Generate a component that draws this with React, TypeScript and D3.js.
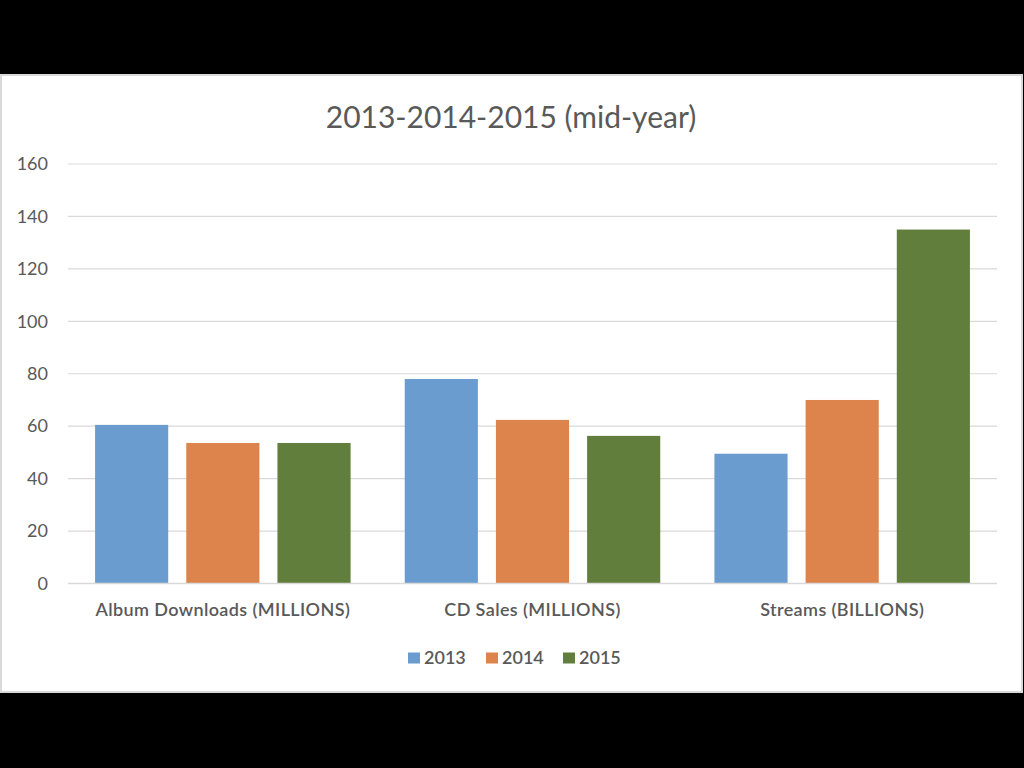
import { useEffect, useRef } from 'react';
import * as d3 from 'd3';

const categories = ['Album Downloads (MILLIONS)', 'CD Sales (MILLIONS)', 'Streams (BILLIONS)'];
const years = ['2013', '2014', '2015'];
const values2013 = [60.5, 78, 49.5];
const values2014 = [53.6, 62.4, 70];
const values2015 = [53.6, 56.3, 135];
const yTicks = [0, 20, 40, 60, 80, 100, 120, 140, 160];
const colors = ['#6a9ccf', '#dd834c', '#617e3c'];

const W = 1024;
const H = 768;
const FONT = 'Lato, "Open Sans", sans-serif';

export default function App() {
  const svgRef = useRef<SVGSVGElement>(null);

  useEffect(() => {
    if (!svgRef.current) return;
    const svg = d3.select(svgRef.current);
    svg.selectAll('*').remove();

    // black slide background + white chart panel
    svg.append('rect').attr('width', W).attr('height', H).attr('fill', '#000');
    svg.append('rect')
      .attr('x', 1).attr('y', 75).attr('width', 1021).attr('height', 617)
      .attr('fill', '#fff').attr('stroke', '#d9d9d9').attr('stroke-width', 2);

    const x0 = d3.scaleBand().domain(categories).range([68, 997]).paddingInner(0).paddingOuter(0);
    const x1 = d3.scaleBand().domain(years).range([0, x0.bandwidth()]).paddingInner(0.198).paddingOuter(0.297);
    const y = d3.scaleLinear().domain([0, 160]).range([583.5, 164]);

    // gridlines
    svg.append('g')
      .selectAll('line')
      .data(yTicks)
      .enter()
      .append('line')
      .attr('x1', 68).attr('x2', 997)
      .attr('y1', d => y(d)).attr('y2', d => y(d))
      .attr('stroke', '#d9d9d9').attr('stroke-width', 1.2);

    // y tick labels
    svg.append('g')
      .selectAll('text')
      .data(yTicks)
      .enter()
      .append('text')
      .attr('x', 48).attr('y', d => y(d))
      .attr('dy', '0.35em')
      .attr('text-anchor', 'end')
      .attr('font-family', FONT).attr('font-size', 18).attr('fill', '#595959')
      .text(d => d);

    const series = [values2013, values2014, values2015];
    const rows = categories.map((c, i) => ({ cat: c, vals: series.map((s, j) => ({ year: years[j], v: s[i], color: colors[j] })) }));

    const groups = svg.append('g')
      .selectAll('g')
      .data(rows)
      .enter()
      .append('g')
      .attr('transform', d => `translate(${x0(d.cat)},0)`);

    groups.selectAll('rect')
      .data(d => d.vals)
      .enter()
      .append('rect')
      .attr('x', d => x1(d.year)!)
      .attr('width', x1.bandwidth())
      .attr('y', d => y(d.v))
      .attr('height', d => y(0) - y(d.v))
      .attr('fill', d => d.color);

    // baseline
    svg.append('line')
      .attr('x1', 68).attr('x2', 997).attr('y1', y(0)).attr('y2', y(0))
      .attr('stroke', '#d9d9d9').attr('stroke-width', 1.5);

    // category labels
    svg.append('g')
      .selectAll('text')
      .data(categories)
      .enter()
      .append('text')
      .attr('x', d => x0(d)! + x0.bandwidth() / 2)
      .attr('y', 610).attr('dy', '0.35em')
      .attr('text-anchor', 'middle')
      .attr('font-family', FONT).attr('font-size', 18).attr('font-weight', 600)
      .attr('letter-spacing', 0.4).attr('fill', '#595959')
      .text(d => d);

    // title
    svg.append('text')
      .attr('x', 511).attr('y', 117).attr('dy', '0.35em')
      .attr('text-anchor', 'middle')
      .attr('font-family', FONT).attr('font-size', 30).attr('fill', '#595959')
      .text('2013-2014-2015 (mid-year)');

    // legend
    const legendX = [408, 486, 563];
    const legend = svg.append('g')
      .selectAll('g')
      .data(years)
      .enter()
      .append('g')
      .attr('transform', (_d, i) => `translate(${legendX[i]},658)`);
    legend.append('rect')
      .attr('x', 0).attr('y', -5.5).attr('width', 12).attr('height', 11)
      .attr('fill', (_d, i) => colors[i]);
    legend.append('text')
      .attr('x', 16).attr('y', 0).attr('dy', '0.35em')
      .attr('font-family', FONT).attr('font-size', 18).attr('font-weight', 600).attr('fill', '#595959')
      .text(d => d);
  }, []);

  return (
    <svg
      ref={svgRef}
      width={W}
      height={H}
      style={{ position: 'absolute', left: 0, top: 0, display: 'block' }}
    />
  );
}
